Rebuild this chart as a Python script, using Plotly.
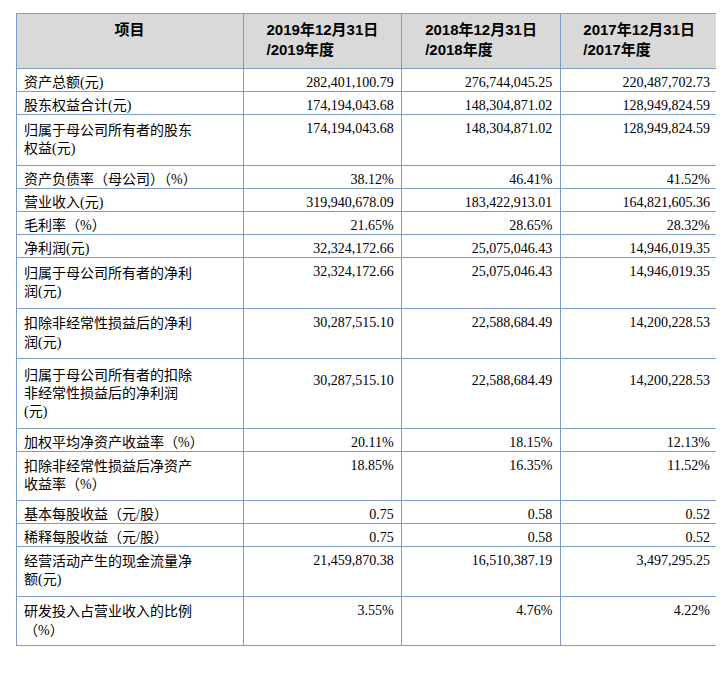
import plotly.graph_objects as go

header = ["<br><b>项目</b>", "<b>2019年12月31日<br>/2019年度</b>",
          "<b>2018年12月31日<br>/2018年度</b>", "<b>2017年12月31日<br>/2017年度</b>"]

items = ["资产总额(元)", "股东权益合计(元)", "归属于母公司所有者的股东<br>权益(元)",
         "资产负债率（母公司）（%）", "营业收入(元)", "毛利率（%）", "净利润(元)",
         "归属于母公司所有者的净利<br>润(元)", "扣除非经常性损益后的净利<br>润(元)",
         "归属于母公司所有者的扣除<br>非经常性损益后的净利润<br>(元)",
         "加权平均净资产收益率（%）", "扣除非经常性损益后净资产<br>收益率（%）",
         "基本每股收益（元/股）", "稀释每股收益（元/股）",
         "经营活动产生的现金流量净<br>额(元)", "研发投入占营业收入的比例<br>（%）"]

lines = [i.count("<br>") + 1 for i in items]

y2019 = ["282,401,100.79", "174,194,043.68", "174,194,043.68", "38.12%", "319,940,678.09",
         "21.65%", "32,324,172.66", "32,324,172.66", "30,287,515.10", "30,287,515.10",
         "20.11%", "18.85%", "0.75", "0.75", "21,459,870.38", "3.55%"]
y2018 = ["276,744,045.25", "148,304,871.02", "148,304,871.02", "46.41%", "183,422,913.01",
         "28.65%", "25,075,046.43", "25,075,046.43", "22,588,684.49", "22,588,684.49",
         "18.15%", "16.35%", "0.58", "0.58", "16,510,387.19", "4.76%"]
y2017 = ["220,487,702.73", "128,949,824.59", "128,949,824.59", "41.52%", "164,821,605.36",
         "28.32%", "14,946,019.35", "14,946,019.35", "14,200,228.53", "14,200,228.53",
         "12.13%", "11.52%", "0.52", "0.52", "3,497,295.25", "4.22%"]


def centre(vals):
    # push numbers down to the middle line of three-line rows
    return ["<br>" + v + "<br> " if n == 3 else v for v, n in zip(vals, lines)]


border = "#7f9cc7"
fig = go.Figure(go.Table(
    columnwidth=[229, 160, 160, 159],
    header=dict(values=header, fill_color="#d9d9d9", line_color=border,
                align="center", height=55,
                font=dict(family="Liberation Sans, Noto Sans CJK SC", size=15, color="black")),
    cells=dict(values=[items, centre(y2019), centre(y2018), centre(y2017)],
               fill_color="white", line_color=border,
               align=["left", "right", "right", "right"], height=23,
               font=dict(family="Liberation Serif, Noto Sans CJK SC", size=14, color="black")),
))
fig.update_layout(width=724, height=696, margin=dict(l=8, r=14, t=5, b=0),
                  paper_bgcolor="white")
fig.write_html("out.html")
